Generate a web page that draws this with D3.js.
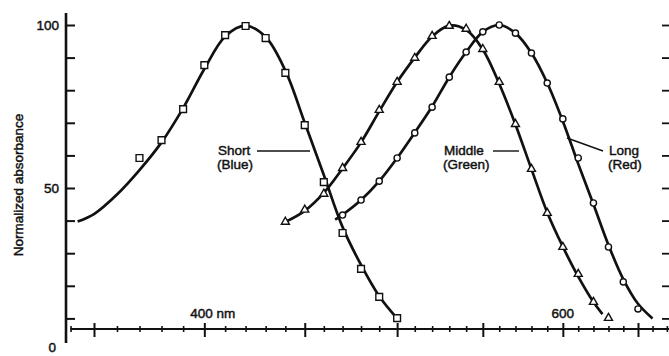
<!DOCTYPE html>
<html>
<script src='https://d3js.org/d3.v7.min.js'></script>
<style>
body {margin: 0; background: white;}
text {font-family: 'Liberation Sans', Arial, sans-serif; fill: #111; stroke: #111; stroke-width: 0.45px;}
.curve {fill: none; stroke: #111; stroke-width: 2.7px;}
.mark {fill: white; stroke: #111; stroke-width: 1.4px;}
</style>
<body>
<script>
// measured points (nm, normalized absorbance)
var shortWl = [370,380,390,400,410,420,430,440,450,460,470,480,490,500];
var shortPts = [59.2,64.7,74.2,87.7,96.9,99.7,96,85.3,69.3,51.8,36.2,25.2,16.6,10.1];

var middleWl = [440,450,460,470,480,490,500,510,520,530,540,550,560,570,580,590,600,610,620,630];
var middlePts = [39.6,43.3,48.2,56.1,64.1,73.9,82.5,89.9,96.6,99.7,98.8,92.6,82.5,69.6,55.8,42.3,31.9,23.6,15,10.1];

var longWl = [470,480,490,500,510,520,530,540,550,560,570,580,590,600,610,620,630,640,650];
var longPts = [41.7,46.3,52.1,59.2,66.9,74.8,84,91.7,97.9,100,97.5,91.4,82.2,71.2,59.2,45.4,31.9,21.2,12.9];

// fitted curves as drawn
var shortCurveWl = [343,350,360,370,380,390,400,410,420,430,440,450,460,470,480,490,500];
var shortCurve = [39.7,42,48,55.5,64,74.5,86.5,96.5,99.8,96.3,86,70,54,38,26.4,16.8,10];

var middleCurveWl = [440,450,460,470,480,490,500,510,520,530,540,550,560,570,580,590,600,610,620,626];
var middleCurve = [39.6,43,48.5,56,64,73.5,82.5,90,96.5,99.8,98.5,92.5,82,69.5,55.8,42.5,32,22.8,15,11.3];

var longCurveWl = [466,470,480,490,500,510,520,530,540,550,560,570,580,590,600,610,620,630,640,650,660];
var longCurve = [40.3,41.8,46.3,52.1,59.2,67,75,84,91.7,97.9,100,97.5,91.4,82.2,70.5,57.4,45,32.5,22,14.5,10];

var xTicks = d3.range(340,671,10);
var yTicks = d3.range(10,101,10);
var yLabels = [50,100];

var svg = d3.select('body')
.append('svg')
.attr('width', 669)
.attr('height', 356);

var x = d3.scalePow().exponent(0.25).domain([350,650]).range([94,638]);
var y = d3.scaleLinear().domain([0,100]).range([351,25]);

//y axis (left)
svg.append('line')
.attr('x1',66).attr('x2',66)
.attr('y1',13).attr('y2',343)
.style('stroke','#111').style('stroke-width',2.6);

svg.append('g')
.attr('transform','translate(66,0)')
.call(d3.axisRight(y).tickValues(yTicks).tickSize(9).tickFormat(''))
.call(function(g){ g.select('.domain').remove(); g.selectAll('line').style('stroke','#111').style('stroke-width',2); });

svg.append('g')
.attr('transform','translate(66,0)')
.call(d3.axisLeft(y).tickValues(yLabels).tickSize(0).tickPadding(7))
.call(function(g){ g.select('.domain').remove(); g.selectAll('text').style('font-size','13.5px').style('font-family',null); });

svg.append('text')
.attr('x',56).attr('y',y(0)-4)
.attr('dy','.35em')
.style('text-anchor','end')
.style('font-size','13.5px')
.text('0');

//right ticks
svg.append('g')
.attr('transform','translate(669,0)')
.call(d3.axisLeft(y).tickValues(yTicks).tickSize(7).tickFormat(''))
.call(function(g){ g.select('.domain').remove(); g.selectAll('line').style('stroke','#111').style('stroke-width',1.8); });

//x axis
svg.append('line')
.attr('x1',x(340)).attr('x2',669)
.attr('y1',329).attr('y2',329)
.style('stroke','#111').style('stroke-width',2);

svg.append('g')
.attr('transform','translate(0,329)')
.call(d3.axisBottom(x).tickValues(xTicks).tickFormat(''))
.call(function(g){
  g.select('.domain').remove();
  g.selectAll('.tick line')
  .attr('y1',function(d){return d%50==0 ? -6 : -3;})
  .attr('y2',function(d){return d%50==0 ? 8 : 3;})
  .style('stroke','#111')
  .style('stroke-width',function(d){return d%50==0 ? 2 : 1.6;});
});

svg.append('text')
.attr('x',x(400)-14).attr('y',318)
.style('font-size','13.5px')
.text('400 nm');

svg.append('text')
.attr('x',x(600)).attr('y',318)
.style('text-anchor','middle')
.style('font-size','13.5px')
.text('600');

//y title
svg.append('text')
.attr('transform','translate(23,185)rotate(-90)')
.style('text-anchor','middle')
.style('font-size','13.5px')
.text('Normalized absorbance');

//curves
var line = d3.line()
.x(function(d){return x(d[0]);})
.y(function(d){return y(d[1]);})
.curve(d3.curveCatmullRom.alpha(0.5));

[[shortCurveWl,shortCurve],[middleCurveWl,middleCurve],[longCurveWl,longCurve]].forEach(function(s){
  svg.append('path')
  .attr('class','curve')
  .attr('d', line(d3.zip(s[0],s[1])));
});

//markers
function drawMarks(wl, vals, type, size){
  svg.append('g')
  .selectAll('path')
  .data(d3.zip(wl,vals))
  .enter()
  .append('path')
  .attr('class','mark')
  .attr('transform',function(d){return 'translate(' + x(d[0]) + ',' + y(d[1]) + ')';})
  .attr('d', d3.symbol().type(type).size(size));
}
drawMarks(shortWl, shortPts, d3.symbolSquare, 46);
drawMarks(middleWl, middlePts, d3.symbolTriangle, 28);
drawMarks(longWl, longPts, d3.symbolCircle, 30);

//labels
var labels = [
  {t1:'Short', t2:'(Blue)', x:218, lx1:257, ly1:151, lx2:310, ly2:151},
  {t1:'Middle', t2:'(Green)', x:444, lx1:493, ly1:151, lx2:519, ly2:151},
  {t1:'Long', t2:'(Red)', x:609, lx1:603, ly1:151, lx2:567, ly2:138}
];
labels.forEach(function(l){
  svg.append('text').attr('x',l.x).attr('y',155).style('font-size','13.5px').text(l.t1);
  svg.append('text').attr('x',l.x-1).attr('y',169).style('font-size','13.5px').text(l.t2);
  svg.append('line')
  .attr('x1',l.lx1).attr('y1',l.ly1)
  .attr('x2',l.lx2).attr('y2',l.ly2)
  .style('stroke','#111').style('stroke-width',1.4);
});
</script>
</body>
</html>
